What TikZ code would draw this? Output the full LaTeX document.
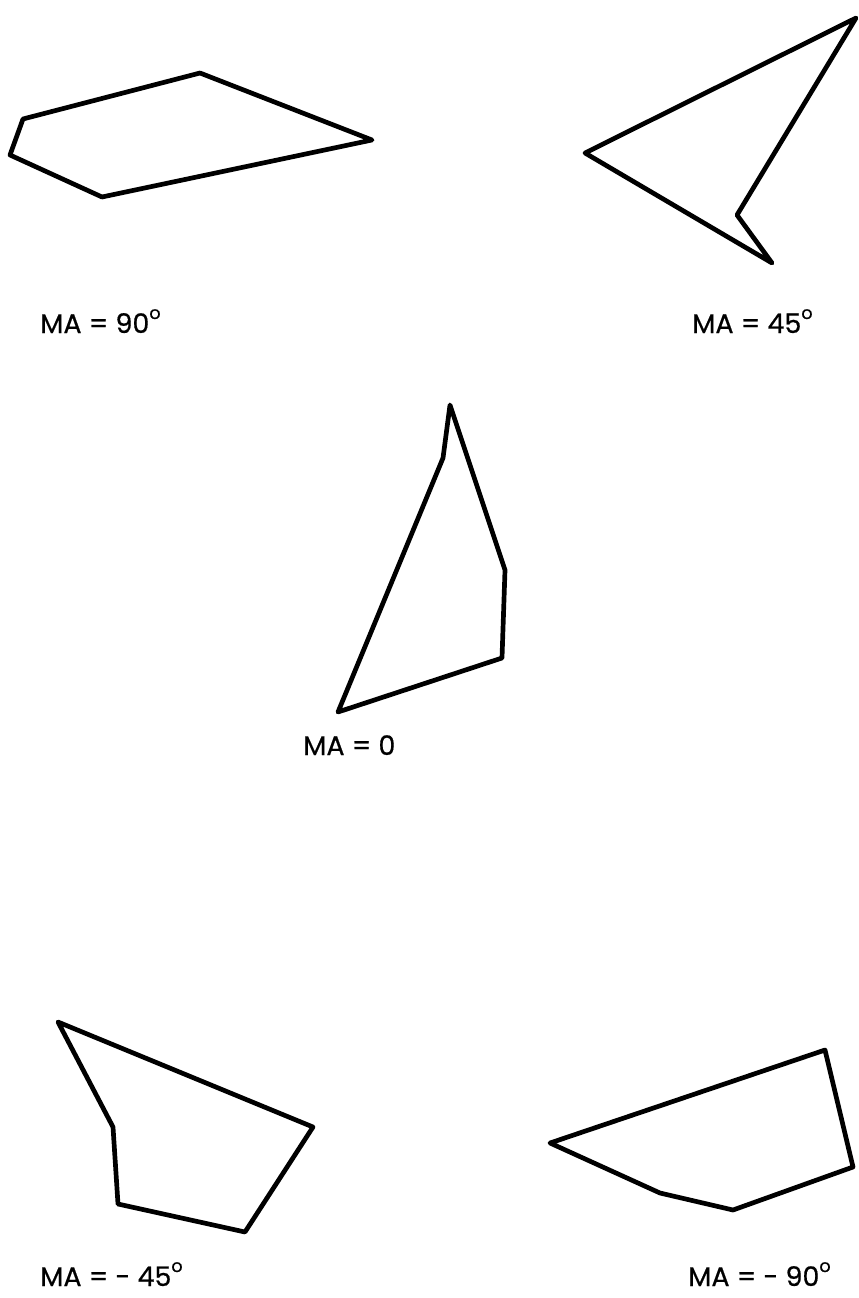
\documentclass[tikz,border=0pt]{standalone}
\usepackage{fontspec}
\newfontfamily\labelfont{Poppins}[FakeBold=0.6]
\usetikzlibrary{positioning}
\newcommand{\degsign}{\raisebox{0.52em}{\fontsize{15}{15}\selectfont o}}

\begin{document}
\begin{tikzpicture}[
        x=0.03cm, y=-0.03cm,
        outline/.style={draw=black, line width=4pt, line join=round, line cap=round},
        malabel/.style={anchor=base west, inner sep=0pt, font=\labelfont\fontsize{23}{26}\selectfont}
    ]
        \useasboundingbox (0,0) rectangle (858,1298);
        % MA = 90
        \draw[outline] (200,73) -- (372,140) -- (102,197) -- (10,155) -- (23,119) -- cycle;
        \node[malabel] (ninety) at (40,333) {MA = 90\degsign};
        % MA = 45
        \draw[outline] (856,18) -- (585,153) -- (772,263) -- (737,215) -- cycle;
        \node[malabel] (fortyfive) at (692,333) {MA = 45\degsign};
        % MA = 0
        \draw[outline] (450,405) -- (505,570) -- (502,658) -- (338,712) -- (443,458) -- cycle;
        \node[malabel] (zero) at (303,755) {MA = 0};
        % MA = -45
        \draw[outline] (58,1022) -- (313,1127) -- (245,1232) -- (118,1204) -- (113,1127) -- cycle;
        \node[malabel] (mfortyfive) at (40,1286) {MA = - 45\degsign};
        % MA = -90
        \draw[outline] (825,1050) -- (853,1167) -- (733,1210) -- (660,1193) -- (550,1143) -- cycle;
        \node[malabel] (mninety) at (688,1286) {MA = - 90\degsign};
    \end{tikzpicture}
\end{document}
